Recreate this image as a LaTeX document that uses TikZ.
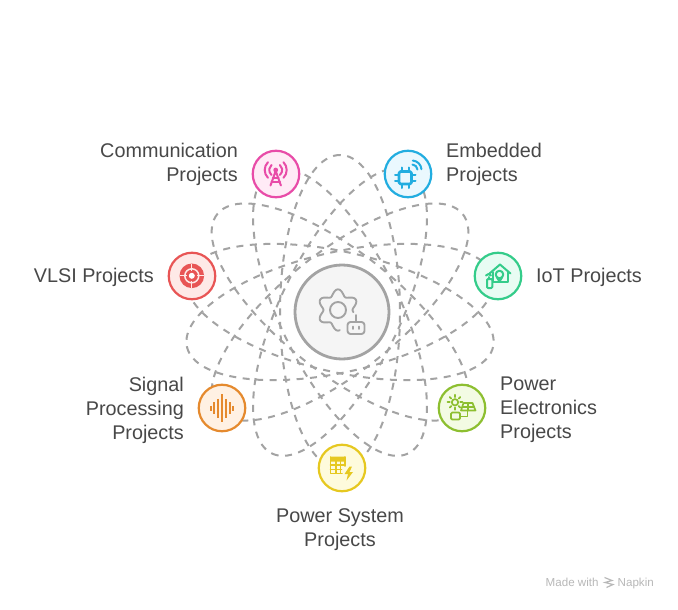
\documentclass[tikz,border=0pt]{standalone}
\usepackage{fontspec}
\setmainfont{Liberation Sans}
\definecolor{orbit}{HTML}{A3A3A3}
\definecolor{labelc}{HTML}{484848}
\definecolor{pinkc}{HTML}{E84CA8}\definecolor{pinkf}{HTML}{FFEBF6}
\definecolor{bluec}{HTML}{22ADE0}\definecolor{bluef}{HTML}{EAF8FE}
\definecolor{mintc}{HTML}{34CC8A}\definecolor{mintf}{HTML}{E8FCF3}
\definecolor{limec}{HTML}{8DBF30}\definecolor{limef}{HTML}{F3FBE3}
\definecolor{yelc}{HTML}{E6C820}\definecolor{yelf}{HTML}{FEFBDC}
\definecolor{oranc}{HTML}{E58A2E}\definecolor{oranf}{HTML}{FFF1E3}
\definecolor{redc}{HTML}{E85555}\definecolor{redf}{HTML}{FEE9E7}
\tikzset{
  orbitline/.style={draw=orbit,line width=2pt,dash pattern=on 7pt off 6.5pt},
  hub/.style={circle,draw=orbit,fill=black!4,line width=2.8pt,minimum size=94pt,inner sep=0pt},
  badge/.style n args={2}{circle,draw=#1,fill=#2,line width=2.2pt,minimum size=46.5pt,inner sep=0pt},
  lab/.style={text=labelc,font=\fontsize{19.8pt}{24pt}\selectfont,inner sep=0pt},
  ico/.style={line width=2pt,line cap=round,line join=round},
}
\begin{document}
\begin{tikzpicture}[x=1pt,y=-1pt]
\useasboundingbox (0,0) rectangle (678,610);
\fill[white] (0,0) rectangle (678,610);
\coordinate (c) at (340,312);
\foreach \a in {90,115.71,141.43,167.14,192.86,218.57,244.29}
  \draw[orbitline,rotate around={\a:(c)}] (c) ellipse [x radius=157pt,y radius=60pt];

\node[hub] (hub) at (342,312) {};
\node[badge={pinkc}{pinkf}] (comm) at (276,174) {};
\node[badge={bluec}{bluef}] (emb) at (408,174) {};
\node[badge={redc}{redf}] (vlsi) at (192,276) {};
\node[badge={mintc}{mintf}] (iot) at (498,276) {};
\node[badge={oranc}{oranf}] (sig) at (222,408) {};
\node[badge={limec}{limef}] (pel) at (462,408) {};
\node[badge={yelc}{yelf}] (psys) at (342,468) {};

% hub icon
\begin{scope}[orbit,ico,line width=1.9pt]
\begin{scope}[shift={(338,310)}]
\draw plot[domain=85:368,samples=140,smooth] (\x:{17.6-3*cos(6*\x)});
\draw (0,0) circle (8);
\end{scope}
\draw[rounded corners=3] (347.5,322) rectangle (364.5,334);
\draw (356,322) -- (356,315);
\draw (353,326.5) -- (353,329) (359,326.5) -- (359,329);
\end{scope}

% communication icon
\begin{scope}[pinkc,ico]
\fill (275.7,170) circle (2.4);
\draw (275.7,171) -- (270.5,185.5) (275.7,171) -- (280.9,185.5);
\draw (272.8,178) -- (278.6,178) (271.5,182) -- (280,182);
\draw (275.7,170) ++(130:6.5) arc (130:230:6.5) (275.7,170) ++(50:6.5) arc (50:-50:6.5);
\draw (275.7,170) ++(135:11) arc (135:225:11) (275.7,170) ++(45:11) arc (45:-45:11);
\end{scope}

% embedded icon
\begin{scope}[bluec,ico]
\draw[line width=2.6pt,rounded corners=1.5] (399,171.5) rectangle (411.5,184);
\foreach \p in {402,408.5} {
  \draw (\p,167.5) -- (\p,171) (\p,184) -- (\p,188);
}
\foreach \p in {174.5,181} {
  \draw (395,\p) -- (398,\p) (412,\p) -- (415.5,\p);
}
\draw (412,170) ++(-85:5.5) arc (-85:-5:5.5);
\draw (412,170) ++(-85:9.5) arc (-85:-5:9.5);
\end{scope}

% vlsi icon
\begin{scope}
\fill[redc] (191.8,275.8) circle (12.3);
\draw[redf,line width=1.5pt] (191.8,275.8) circle (7);
\fill[white] (191.8,275.8) circle (3);
\draw[redf,line width=1.3pt] (191.8,264) -- (191.8,271) (191.8,281) -- (191.8,288) (180,275.8) -- (187,275.8) (197,275.8) -- (204,275.8);
\end{scope}

% iot icon
\begin{scope}[mintc,ico]
\draw (489.5,273.5) -- (500,264.5) -- (510.5,273.5);
\draw (492.5,272) -- (492.5,281.5) -- (508,281.5) -- (508,271.5);
\draw (499.5,274.5) circle (3.8);
\draw (497,277.5) -- (499.5,281.5) -- (502,277.5);
\draw[fill=mintf,rounded corners=1] (487,279) rectangle (492.3,288);
\draw (486,275.5) -- (488.5,274) -- (491,275.5);
\draw (489,277) -- (489,279);
\end{scope}

% signal icon
\begin{scope}[oranc,line width=2.1pt]
\foreach \p/\h in {210.7/2.5,214.4/6,218.1/9.5,222/14,225.9/9.5,229.6/6,233.3/2.5}
  \draw (\p,408.3-\h) -- (\p,408.3+\h);
\end{scope}

% power electronics icon
\begin{scope}[limec,ico,line width=1.7pt]
\draw (455,402.3) circle (3.2);
\foreach \t in {0,45,...,315}
  \draw (455,402.3) ++(\t:5.2) -- ++(\t:2.3);
\draw (463.5,403) -- (472.5,403) -- (475.5,410.5) -- (461,410.5) -- cycle;
\draw (468,403) -- (468,410.5) (462.5,406.7) -- (474,406.7);
\draw (467.5,410.5) -- (467.5,416.5) -- (460,416.5);
\draw[rounded corners=1.2] (451,412.5) rectangle (460,419.5);
\end{scope}

% power system icon
\begin{scope}[yelc,ico,line width=1.7pt]
\fill[rounded corners=1] (330.2,456.5) rectangle (345.5,461.5);
\draw (330.5,457) -- (330.5,473.5) -- (342,473.5);
\draw (345.2,457) -- (345.2,466);
\draw (330.5,465) -- (345,465) (330.5,469.5) -- (341.5,469.5) (335.7,461) -- (335.7,473) (340.6,461) -- (340.6,473);
\fill (349.5,466.5) -- (344.5,474) -- (348,474) -- (346.5,480.5) -- (353,472) -- (349.5,472) -- (352,466.5) -- cycle;
\end{scope}

% labels
\node[lab,align=right,anchor=east] (t1) at (238,164) {Communication\\Projects};
\node[lab,align=left,anchor=west] (t2) at (446,164) {Embedded\\Projects};
\node[lab,anchor=east] (t3) at (154,277.5) {VLSI Projects};
\node[lab,anchor=west] (t4) at (536,277.5) {IoT Projects};
\node[lab,align=right,anchor=east] (t5) at (184,410) {Signal\\Processing\\Projects};
\node[lab,align=left,anchor=west] (t6) at (500,410) {Power\\Electronics\\Projects};
\node[lab,align=center] (t7) at (340,530) {Power System\\Projects};

% watermark
\node[text=black!28,font=\fontsize{11.6pt}{13pt}\selectfont,inner sep=0pt,anchor=base west] (wm1) at (545.5,586) {Made with};
\begin{scope}[black!28,line width=1.2pt]
\draw (604.5,577.5) -- (612,580.5) -- (605,582.5) -- (613,584.5) -- (606.5,587.5);
\end{scope}
\node[text=black!28,font=\fontsize{11.6pt}{13pt}\selectfont,inner sep=0pt,anchor=base west] (wm2) at (617.5,586) {Napkin};
\end{tikzpicture}
\end{document}
